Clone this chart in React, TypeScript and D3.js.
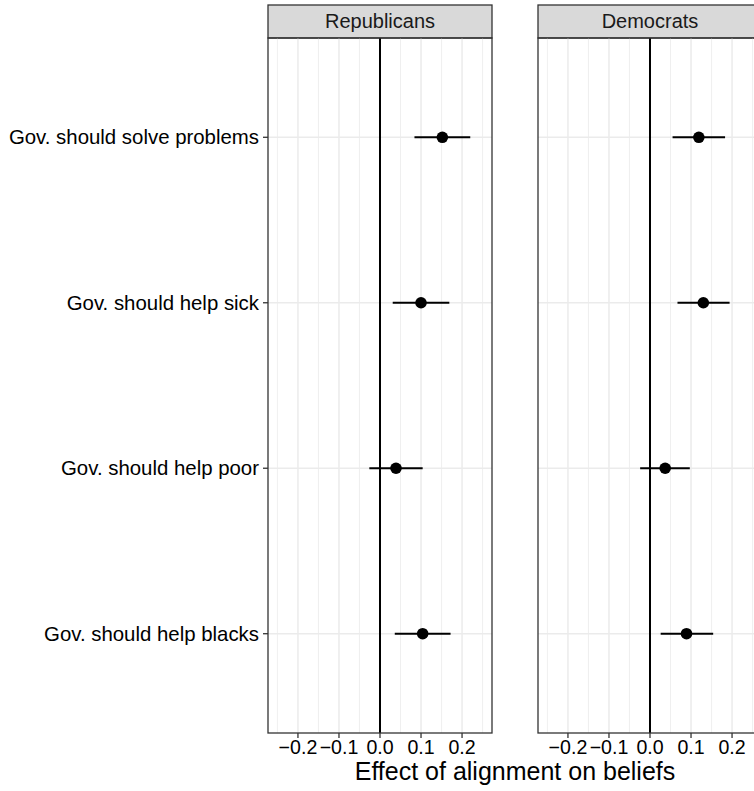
import React from 'react';
import * as d3 from 'd3';

const categories = [
  'Gov. should solve problems',
  'Gov. should help sick',
  'Gov. should help poor',
  'Gov. should help blacks',
];
const panels = ['Republicans', 'Democrats'];

const repEstimate = [0.152, 0.1, 0.039, 0.104];
const repLower = [0.084, 0.031, -0.026, 0.036];
const repUpper = [0.22, 0.169, 0.104, 0.172];

const demEstimate = [0.119, 0.13, 0.037, 0.089];
const demLower = [0.055, 0.067, -0.024, 0.026];
const demUpper = [0.183, 0.194, 0.097, 0.154];

const xTicks = [-0.2, -0.1, 0, 0.1, 0.2];
const xMinorTicks = [-0.25, -0.15, -0.05, 0.05, 0.15, 0.25];
const xLabel = 'Effect of alignment on beliefs';

const W = 754;
const H = 791;
const panelLefts = [268, 538];
const panelW = 224;
const stripTop = 5;
const panelTop = 38;
const panelBottom = 733;
const font = '"Liberation Sans", Arial, Helvetica, sans-serif';

const Panel = ({ left, title, est, lo, hi, showY }) => {
  const x = d3.scaleLinear().domain([-0.273, 0.273]).range([0, panelW]);
  const y = d3.scalePoint().domain(categories).range([panelTop, panelBottom]).padding(0.6);
  const fmt = d3.format('.1f');
  return (
    <g transform={`translate(${left},0)`}>
      {/* strip */}
      <rect x={0} y={stripTop} width={panelW} height={panelTop - stripTop}
        fill="#D9D9D9" stroke="#333333" strokeWidth={1.3} />
      <text x={panelW / 2} y={28} textAnchor="middle" fontSize={20} fill="#1A1A1A">{title}</text>

      {/* grid */}
      {xMinorTicks.map(t => (
        <line key={'m' + t} x1={x(t)} x2={x(t)} y1={panelTop} y2={panelBottom}
          stroke="#EBEBEB" strokeWidth={0.8} />
      ))}
      {xTicks.map(t => (
        <line key={'M' + t} x1={x(t)} x2={x(t)} y1={panelTop} y2={panelBottom}
          stroke="#EBEBEB" strokeWidth={1.5} />
      ))}
      {categories.map(c => (
        <line key={c} x1={0} x2={panelW} y1={y(c)} y2={y(c)} stroke="#EBEBEB" strokeWidth={1.5} />
      ))}

      {/* zero line */}
      <line x1={x(0)} x2={x(0)} y1={panelTop} y2={panelBottom} stroke="#000" strokeWidth={2} />

      {/* estimates */}
      {categories.map((c, i) => (
        <g key={c}>
          <line x1={x(lo[i])} x2={x(hi[i])} y1={y(c)} y2={y(c)} stroke="#000" strokeWidth={2} />
          <circle cx={x(est[i])} cy={y(c)} r={5.8} fill="#000" />
        </g>
      ))}

      {/* border */}
      <rect x={0} y={panelTop} width={panelW} height={panelBottom - panelTop}
        fill="none" stroke="#333333" strokeWidth={1.3} />

      {/* x axis */}
      {xTicks.map(t => (
        <g key={'t' + t}>
          <line x1={x(t)} x2={x(t)} y1={panelBottom} y2={panelBottom + 5} stroke="#333333" strokeWidth={1.3} />
          <text x={x(t)} y={754} textAnchor="middle" fontSize={19.6} fill="#000">{fmt(t)}</text>
        </g>
      ))}

      {/* y axis */}
      {showY && categories.map(c => (
        <g key={'y' + c}>
          <line x1={-5} x2={0} y1={y(c)} y2={y(c)} stroke="#333333" strokeWidth={1.3} />
          <text x={-9} y={y(c)} dy="0.35em" textAnchor="end" fontSize={20.4} fill="#000">{c}</text>
        </g>
      ))}
    </g>
  );
};

export default function App() {
  return (
    <div style={{ position: 'absolute', left: 0, top: 0 }}>
      <svg width={W} height={H} style={{ display: 'block', fontFamily: font }}>
        <rect width={W} height={H} fill="#fff" />
        <Panel left={panelLefts[0]} title={panels[0]} est={repEstimate} lo={repLower} hi={repUpper} showY />
        <Panel left={panelLefts[1]} title={panels[1]} est={demEstimate} lo={demLower} hi={demUpper} showY={false} />
        <text x={(panelLefts[0] + panelLefts[1] + panelW) / 2} y={780} textAnchor="middle" fontSize={25} fill="#000">
          {xLabel}
        </text>
      </svg>
    </div>
  );
}
